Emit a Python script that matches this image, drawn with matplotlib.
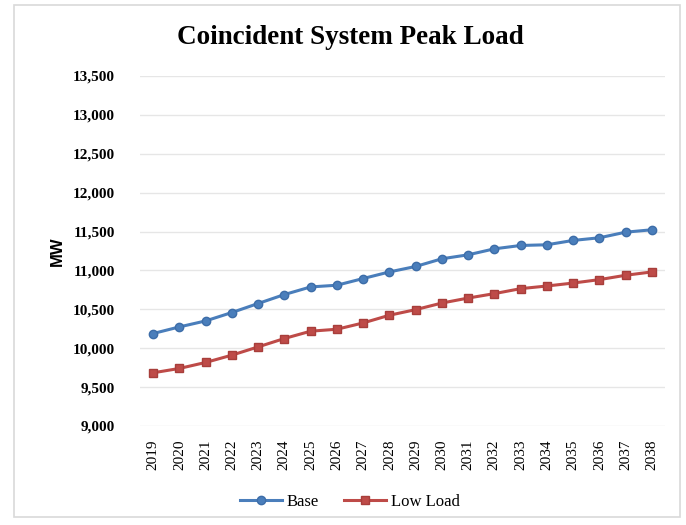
import matplotlib.pyplot as plt
from matplotlib.patches import Rectangle
from matplotlib.ticker import FuncFormatter

years = [str(y) for y in range(2019, 2039)]
base = [10189, 10274, 10351, 10459, 10575, 10690, 10788, 10810, 10896, 10981,
        11051, 11150, 11201, 11278, 11321, 11330, 11386, 11420, 11492, 11523]
low_load = [9684, 9740, 9817, 9911, 10017, 10125, 10219, 10244, 10325, 10424,
            10496, 10581, 10645, 10702, 10766, 10800, 10838, 10882, 10938, 10981]

W, H = 686, 525
fig = plt.figure(figsize=(W / 100, H / 100), dpi=100)

# chart border
fig.patches.append(Rectangle((14 / W, 1 - 517 / H), (680 - 14) / W, (517 - 5) / H,
                             transform=fig.transFigure, fill=False,
                             edgecolor='#d9d9d9', linewidth=1.2))

ax = fig.add_axes([140 / W, 1 - 426 / H, (665 - 140) / W, (426 - 76) / H])

x = range(len(years))
ax.plot(x, base, color='#4a7ebb', linewidth=2.2, marker='o', markersize=6,
        markerfacecolor='#4a7ebb', markeredgecolor='#3d6da8', label='Base')
ax.plot(x, low_load, color='#be4b48', linewidth=2.2, marker='s', markersize=5.5,
        markerfacecolor='#be4b48', markeredgecolor='#a83e3b', label='Low Load')

ax.set_xlim(-0.5, len(years) - 0.5)
ax.set_ylim(9000, 13500)
ax.set_yticks(range(9000, 13501, 500))
ax.yaxis.set_major_formatter(FuncFormatter(lambda v, p: f'{int(v):,}'))
ax.set_xticks(list(x))
ax.set_xticklabels(years, rotation=90, family='Liberation Serif', fontsize=11)
for lab in ax.get_yticklabels():
    lab.set_family('Liberation Serif')
    lab.set_fontweight('bold')
    lab.set_fontsize(11)

ax.grid(axis='y', color='#e6e6e6', linewidth=1)
ax.set_axisbelow(True)
for s in ax.spines.values():
    s.set_visible(False)
ax.tick_params(length=0)
ax.tick_params(axis='x', pad=10)
ax.tick_params(axis='y', pad=18)

ax.set_ylabel('MW', family='Liberation Sans', fontweight='bold', fontsize=12, labelpad=6)

fig.text(350 / W, 1 - 37 / H, 'Coincident System Peak Load', ha='center', va='center',
         family='Liberation Serif', fontweight='bold', fontsize=19.5)

ax.legend(loc='center', bbox_to_anchor=(350 / W, 1 - 502 / H), bbox_transform=fig.transFigure,
          ncol=2, frameon=False, prop={'family': 'Liberation Serif', 'size': 12},
          handlelength=2.5, columnspacing=1.5, handletextpad=0.3)

fig.savefig('out.png', dpi=100)
